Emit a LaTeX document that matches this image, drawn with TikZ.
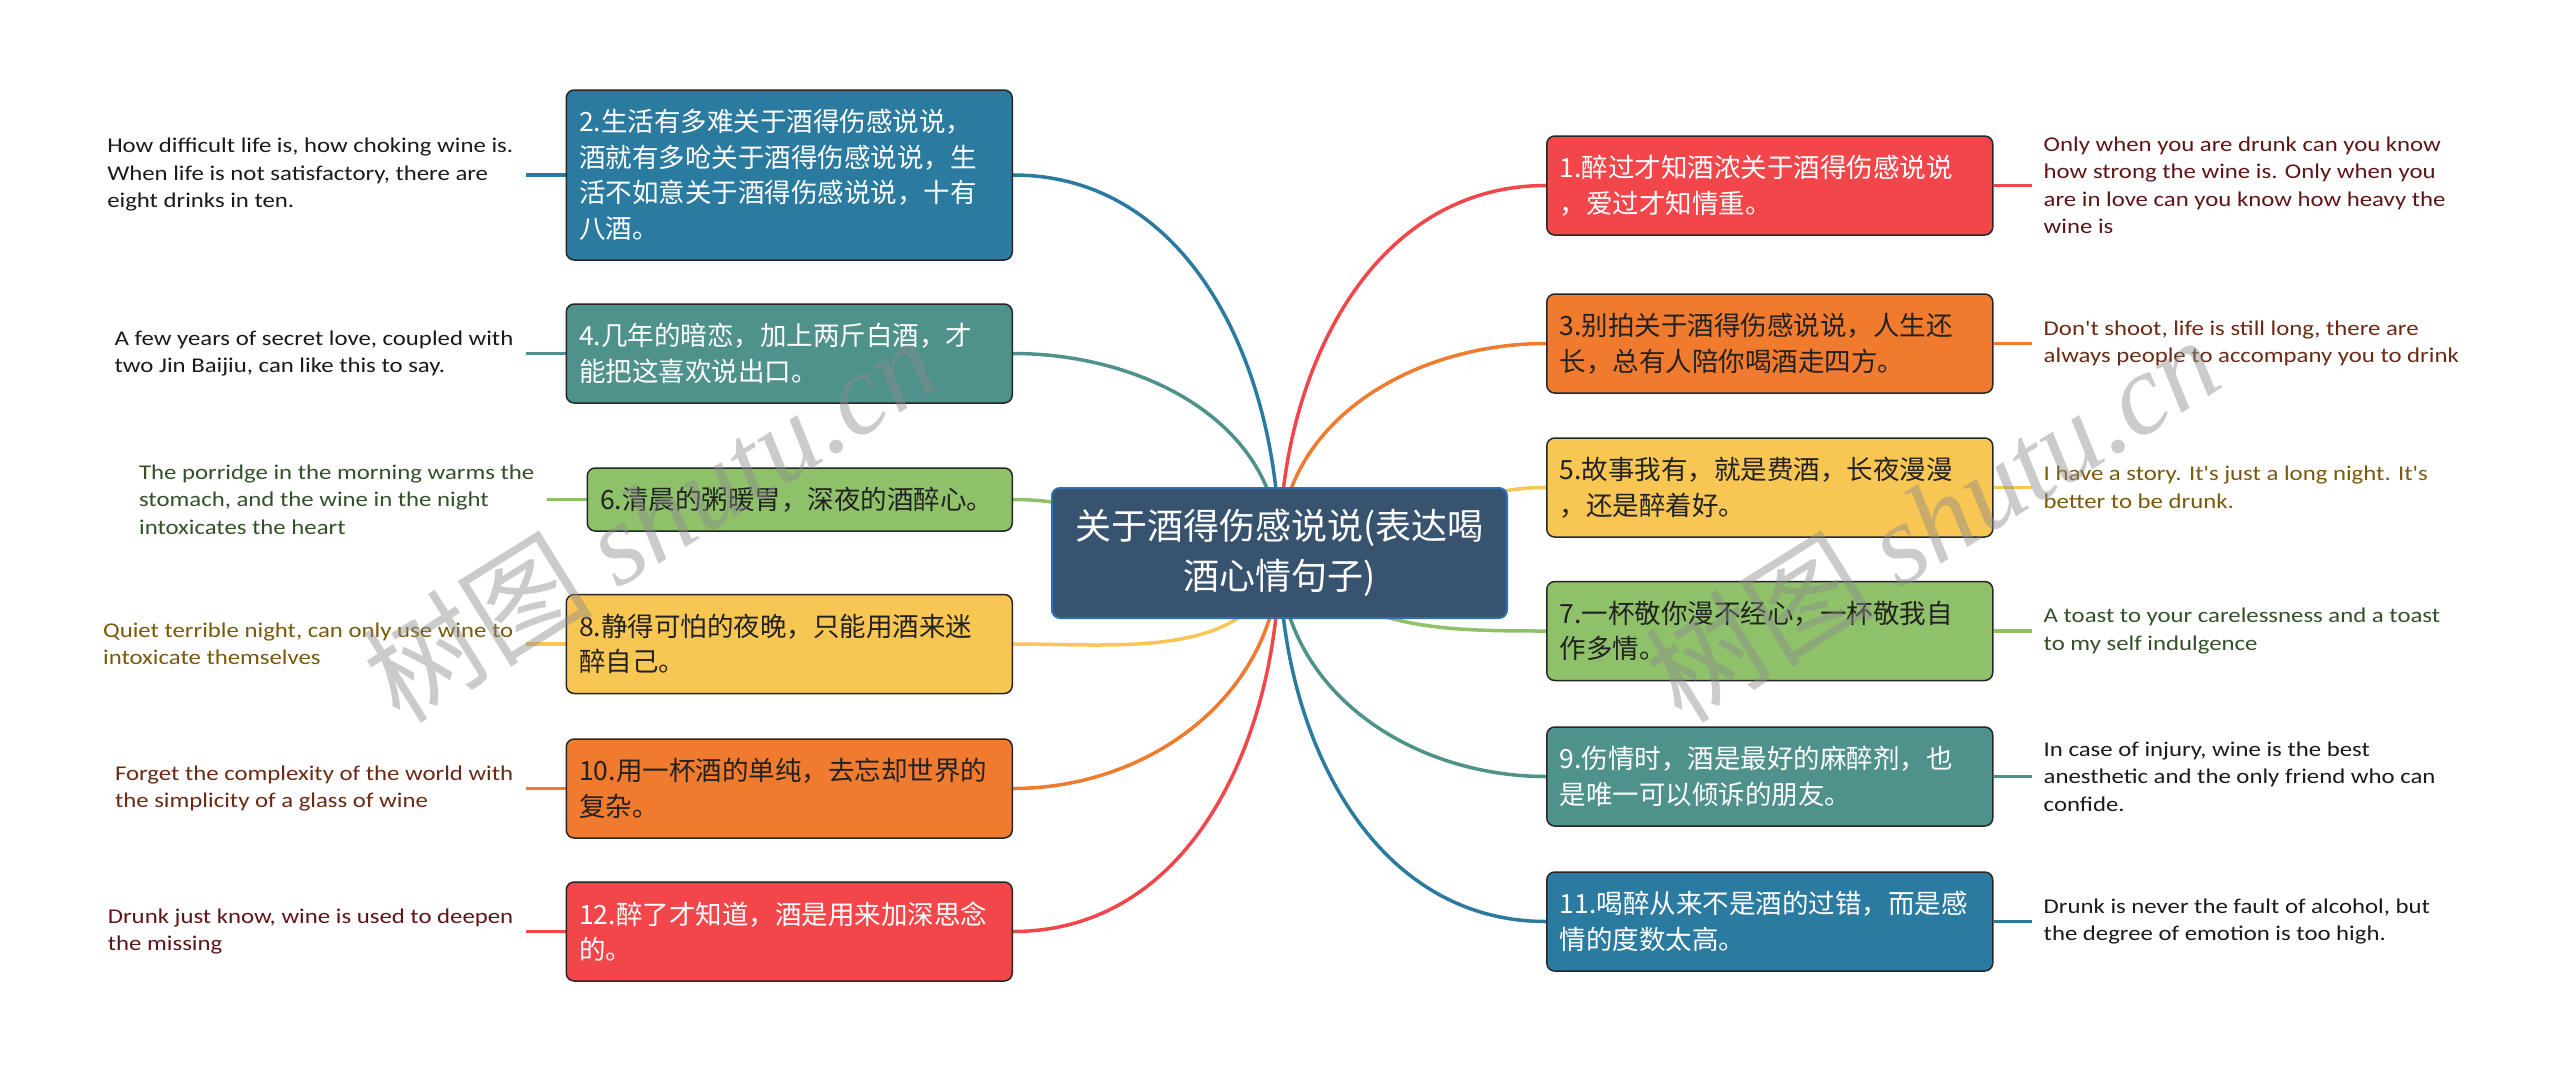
\documentclass[tikz,border=0pt]{standalone}
\usepackage{fontspec}
\setmainfont{Carlito}
\newfontfamily\notefont[FakeStretch=1.18]{Carlito}
\newfontfamily\cjk{Noto Sans CJK SC}
\newfontfamily\wmserif{Liberation Serif}
\usetikzlibrary{positioning,backgrounds}

\definecolor{cred}{HTML}{F3464B}
\definecolor{cblue}{HTML}{2B7BA1}
\definecolor{corange}{HTML}{F07A2E}
\definecolor{cteal}{HTML}{4F918B}
\definecolor{cyellow}{HTML}{F7C653}
\definecolor{cgreen}{HTML}{8FC06A}
\definecolor{rootfill}{HTML}{38536F}
\definecolor{rootedge}{HTML}{2F6DB7}
\definecolor{inkdark}{HTML}{222222}
\definecolor{nred}{HTML}{5E1518}
\definecolor{nbrown}{HTML}{6A2A14}
\definecolor{nolive}{HTML}{7A5A0A}
\definecolor{ngreen}{HTML}{33502A}
\definecolor{nblack}{HTML}{1A1A1A}

\tikzset{
  root/.style={fill=rootfill, draw=rootedge, line width=2pt, rounded corners=8pt,
    minimum width=455pt, minimum height=130pt, text=white, align=center,
    font=\cjk\fontsize{36pt}{50pt}\selectfont},
  box/.style={draw=black!85, line width=1.5pt, rounded corners=8pt,
    text width=420pt, inner xsep=13pt, inner ysep=4pt, minimum height=99pt,
    align=left, font=\cjk\fontsize{26.5pt}{35.7pt}\selectfont},
  note/.style={inner sep=12pt, align=left, font=\notefont\fontsize{21pt}{27.5pt}\selectfont},
  link/.style={line width=3.5pt},
  wm/.style={text=black!45, opacity=0.45, rotate=32,
    font=\cjk\fontsize{115pt}{115pt}\selectfont}
}

\begin{document}
\begin{tikzpicture}[x=1pt,y=1pt]
   \useasboundingbox (0,0) rectangle (2560,-1071);

   % Central topic
   \node[root] (root) at (1279.5,-553) {关于酒得伤感说说(表达喝\\酒心情句子)};

   % Right branches
   \node[box, fill=cred, text=white, anchor=west] (b1) at (1546,-185.5)
       {1.醉过才知酒浓关于酒得伤感说说\\，爱过才知情重。};
   \node[box, fill=corange, text=inkdark, anchor=west] (b3) at (1546,-343.5)
       {3.别拍关于酒得伤感说说，人生还\\长，总有人陪你喝酒走四方。};
   \node[box, fill=cyellow, text=inkdark, anchor=west] (b5) at (1546,-487.5)
       {5.故事我有，就是费酒，长夜漫漫\\，还是醉着好。};
   \node[box, fill=cgreen, text=inkdark, anchor=west] (b7) at (1546,-631)
       {7.一杯敬你漫不经心，一杯敬我自\\作多情。};
   \node[box, fill=cteal, text=white, anchor=west] (b9) at (1546,-776.5)
       {9.伤情时，酒是最好的麻醉剂，也\\是唯一可以倾诉的朋友。};
   \node[box, fill=cblue, text=white, anchor=west] (b11) at (1546,-921.5)
       {11.喝醉从来不是酒的过错，而是感\\情的度数太高。};

   % Left branches
   \node[box, fill=cblue, text=white, anchor=east, minimum height=170pt] (b2) at (1013,-175)
       {2.生活有多难关于酒得伤感说说，\\酒就有多呛关于酒得伤感说说，生\\活不如意关于酒得伤感说说，十有\\八酒。};
   \node[box, fill=cteal, text=white, anchor=east] (b4) at (1013,-353.5)
       {4.几年的暗恋，加上两斤白酒，才\\能把这喜欢说出口。};
   \node[box, fill=cgreen, text=inkdark, anchor=east, text width=399pt, minimum height=63pt] (b6) at (1013,-499.5)
       {6.清晨的粥暖胃，深夜的酒醉心。};
   \node[box, fill=cyellow, text=inkdark, anchor=east] (b8) at (1013,-644)
       {8.静得可怕的夜晚，只能用酒来迷\\醉自己。};
   \node[box, fill=corange, text=inkdark, anchor=east] (b10) at (1013,-788.5)
       {10.用一杯酒的单纯，去忘却世界的\\复杂。};
   \node[box, fill=cred, text=white, anchor=east] (b12) at (1013,-931.5)
       {12.醉了才知道，酒是用来加深思念\\的。};

   % English notes, right
   \node[note, text=nred, right=38pt of b1] (t1)
       {Only when you are drunk can you know\\how strong the wine is. Only when you\\are in love can you know how heavy the\\wine is};
   \node[note, text=nbrown, right=38pt of b3] (t3)
       {Don't shoot, life is still long, there are\\always people to accompany you to drink};
   \node[note, text=nolive, right=38pt of b5] (t5)
       {I have a story. It's just a long night. It's\\better to be drunk.};
   \node[note, text=ngreen, right=38pt of b7] (t7)
       {A toast to your carelessness and a toast\\to my self indulgence};
   \node[note, text=nblack, right=38pt of b9] (t9)
       {In case of injury, wine is the best\\anesthetic and the only friend who can\\confide.};
   \node[note, text=nblack, right=38pt of b11] (t11)
       {Drunk is never the fault of alcohol, but\\the degree of emotion is too high.};

   % English notes, left
   \node[note, text=nblack, left=40pt of b2] (t2)
       {How difficult life is, how choking wine is.\\When life is not satisfactory, there are\\eight drinks in ten.};
   \node[note, text=nblack, left=40pt of b4] (t4)
       {A few years of secret love, coupled with\\two Jin Baijiu, can like this to say.};
   \node[note, text=ngreen, left=40pt of b6] (t6)
       {The porridge in the morning warms the\\stomach, and the wine in the night\\intoxicates the heart};
   \node[note, text=nolive, left=40pt of b8] (t8)
       {Quiet terrible night, can only use wine to\\intoxicate themselves};
   \node[note, text=nbrown, left=40pt of b10] (t10)
       {Forget the complexity of the world with\\the simplicity of a glass of wine};
   \node[note, text=nred, left=40pt of b12] (t12)
       {Drunk just know, wine is used to deepen\\the missing};

   % Branch curves and stubs
   \begin{scope}[on background layer]
       \fill[white] (0,0) rectangle (2560,-1071);
       \foreach \b/\c/\o/\i in {b1.west/cred/90/180, b3.west/corange/90/180,
                                b5.west/cyellow/0/180, b7.west/cgreen/-45/180,
                                b9.west/cteal/-90/180, b11.west/cblue/-90/180,
                                b2.east/cblue/90/0, b4.east/cteal/90/0,
                                b6.east/cgreen/180/0, b8.east/cyellow/-100/0,
                                b10.east/corange/-90/0, b12.east/cred/-90/0} {
           \draw[link,\c] (root.center) to[out=\o,in=\i] (\b);
       }
       \foreach \n/\c in {1/cred,3/corange,5/cyellow,7/cgreen,9/cteal,11/cblue} {
           \draw[link,\c] (b\n.east) -- (t\n.west);
       }
       \foreach \n/\c in {2/cblue,4/cteal,6/cgreen,8/cyellow,10/corange,12/cred} {
           \draw[link,\c] (b\n.west) -- (t\n.east);
       }
   \end{scope}

   % Watermark
   \node[wm] (wm1) at (650,-518) {树图 {\wmserif\itshape shutu.cn}};
   \node[wm] (wm2) at (1932,-518) {树图 {\wmserif\itshape shutu.cn}};
\end{tikzpicture}
\end{document}
